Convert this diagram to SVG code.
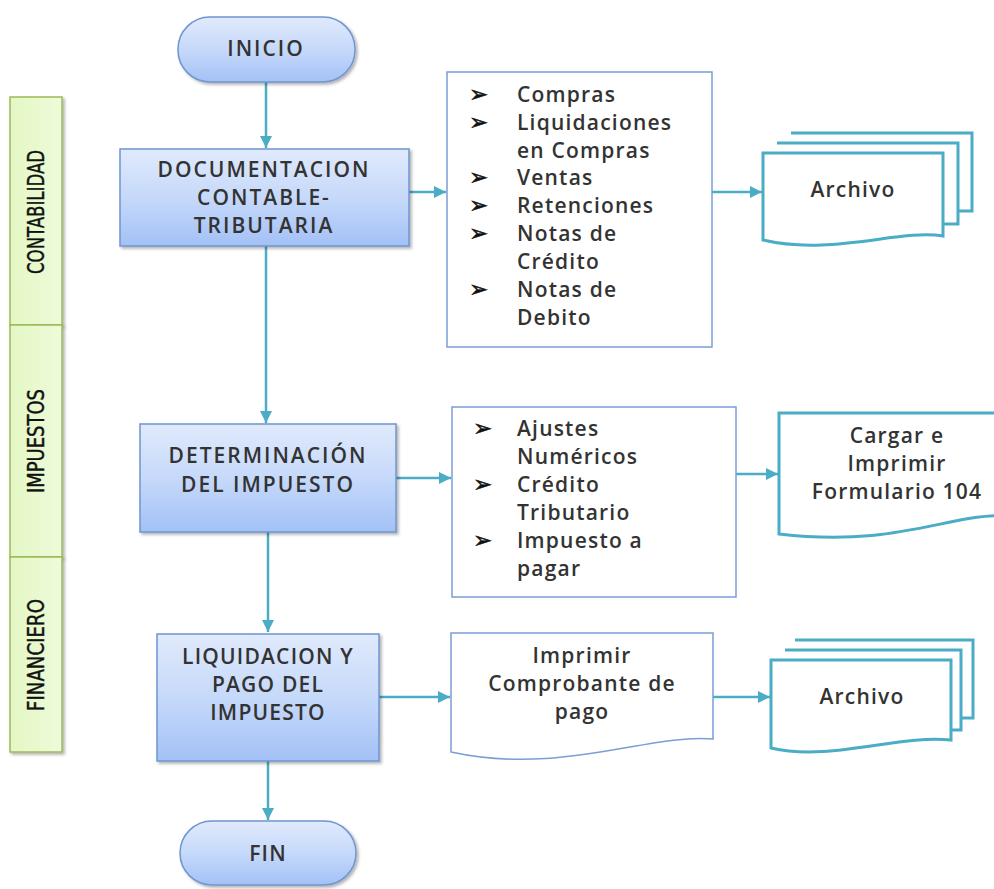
<svg xmlns="http://www.w3.org/2000/svg" width="994" height="889" viewBox="0 0 994 889">
  <defs>
    <linearGradient id="blueFill" x1="0" y1="0" x2="0" y2="1">
      <stop offset="0" stop-color="#e0eafc"/>
      <stop offset="0.5" stop-color="#c6d9fa"/>
      <stop offset="1" stop-color="#a3c1f6"/>
    </linearGradient>
    <linearGradient id="greenFill" x1="0" y1="0" x2="1" y2="0">
      <stop offset="0" stop-color="#e4f7c4"/>
      <stop offset="1" stop-color="#eefbd9"/>
    </linearGradient>
    <filter id="shadow" x="-10%" y="-10%" width="130%" height="130%">
      <feDropShadow dx="2" dy="2" stdDeviation="1.5" flood-color="#000" flood-opacity="0.3"/>
    </filter>
    <marker id="arrow" viewBox="0 0 10 10" refX="10" refY="5" markerWidth="5" markerHeight="5" orient="auto" markerUnits="strokeWidth">
      <path d="M0,0 L10,5 L0,10 Z" fill="#4bacc6"/>
    </marker>
  </defs>
  <style>
    .lane { fill: url(#greenFill); stroke: #9bbb59; stroke-width: 1.5; }
    .lane-label { font-family: "Liberation Sans Narrow", "DejaVu Sans Condensed", "Liberation Sans", sans-serif; font-size: 23px; fill: #111; stroke: #111; stroke-width: 0.4; text-anchor: middle; }
    .process { fill: url(#blueFill); stroke: #6f95cf; stroke-width: 1.5; }
    .list { fill: #ffffff; stroke: #7a9fd4; stroke-width: 1.5; }
    .doc-thin { fill: #ffffff; stroke: #7a9fd4; stroke-width: 1.5; }
    .doc-teal { fill: #ffffff; stroke: #4bacc6; stroke-width: 3; }
    .label { font-family: "Open Sans", "Liberation Sans", sans-serif; font-size: 21px; font-weight: 600; fill: #333; letter-spacing: 1.2px; }
    .caps { letter-spacing: 2px; }
    .center { text-anchor: middle; }
    .bullet { font-family: "DejaVu Sans", sans-serif; font-size: 23px; fill: #111; stroke: #111; stroke-width: 0.5; }
    .conn { fill: none; stroke: #4bacc6; stroke-width: 2.5; marker-end: url(#arrow); }
  </style>

  <!-- swimlane labels -->
  <g id="lane-contabilidad">
    <rect class="lane" x="10" y="97" width="52" height="228" filter="url(#shadow)"/>
    <text class="lane-label" transform="translate(44,212) rotate(-90)" textLength="124" lengthAdjust="spacingAndGlyphs">CONTABILIDAD</text>
  </g>
  <g id="lane-impuestos">
    <rect class="lane" x="10" y="325" width="52" height="232" filter="url(#shadow)"/>
    <text class="lane-label" transform="translate(44,441) rotate(-90)" textLength="104" lengthAdjust="spacingAndGlyphs">IMPUESTOS</text>
  </g>
  <g id="lane-financiero">
    <rect class="lane" x="10" y="557" width="52" height="195" filter="url(#shadow)"/>
    <text class="lane-label" transform="translate(44,655) rotate(-90)" textLength="112" lengthAdjust="spacingAndGlyphs">FINANCIERO</text>
  </g>

  <!-- connectors -->
  <g id="connectors">
    <path class="conn" d="M266,82 V148"/>
    <path class="conn" d="M409,192 H446"/>
    <path class="conn" d="M712,192 H762"/>
    <path class="conn" d="M266,246 V423"/>
    <path class="conn" d="M396,478 H451"/>
    <path class="conn" d="M736,474 H778"/>
    <path class="conn" d="M268,532 V632"/>
    <path class="conn" d="M379,697 H450"/>
    <path class="conn" d="M713,697 H770"/>
    <path class="conn" d="M268,761 V820"/>
  </g>

  <!-- start -->
  <g id="inicio">
    <rect class="process" x="178" y="17" width="177" height="65" rx="32" ry="32" filter="url(#shadow)"/>
    <text class="label caps center" x="266" y="56">INICIO</text>
  </g>

  <!-- accounting documents -->
  <g id="documentacion">
    <rect class="process" x="120" y="149" width="289" height="97" filter="url(#shadow)"/>
    <text class="label caps center" x="264" y="177">DOCUMENTACION</text>
    <text class="label caps center" x="264" y="205">CONTABLE-</text>
    <text class="label caps center" x="264" y="233">TRIBUTARIA</text>
  </g>

  <g id="lista-documentos">
    <rect class="list" x="447" y="72" width="265" height="275"/>
    <text class="bullet" x="469" y="102">➢</text>
    <text class="label" x="517" y="102">Compras</text>
    <text class="bullet" x="469" y="130">➢</text>
    <text class="label" x="517" y="130">Liquidaciones</text>
    <text class="label" x="517" y="158">en Compras</text>
    <text class="bullet" x="469" y="185">➢</text>
    <text class="label" x="517" y="185">Ventas</text>
    <text class="bullet" x="469" y="213">➢</text>
    <text class="label" x="517" y="213">Retenciones</text>
    <text class="bullet" x="469" y="241">➢</text>
    <text class="label" x="517" y="241">Notas de</text>
    <text class="label" x="517" y="269">Crédito</text>
    <text class="bullet" x="469" y="297">➢</text>
    <text class="label" x="517" y="297">Notas de</text>
    <text class="label" x="517" y="325">Debito</text>
  </g>

  <g id="archivo-1">
    <path class="doc-teal" d="M791,133 H972 V211 H958"/>
    <path class="doc-teal" d="M777,143 H958 V224 H943"/>
    <path class="doc-teal" d="M763,153 H943 V236 C900,229 830,256 763,240 Z"/>
    <text class="label center" x="853" y="197">Archivo</text>
  </g>

  <!-- tax determination -->
  <g id="determinacion">
    <rect class="process" x="140" y="424" width="256" height="108" filter="url(#shadow)"/>
    <text class="label caps center" x="268" y="463">DETERMINACIÓN</text>
    <text class="label caps center" x="268" y="492">DEL IMPUESTO</text>
  </g>

  <g id="lista-ajustes">
    <rect class="list" x="452" y="407" width="284" height="190"/>
    <text class="bullet" x="473" y="436">➢</text>
    <text class="label" x="517" y="436">Ajustes</text>
    <text class="label" x="517" y="464">Numéricos</text>
    <text class="bullet" x="473" y="492">➢</text>
    <text class="label" x="517" y="492">Crédito</text>
    <text class="label" x="517" y="520">Tributario</text>
    <text class="bullet" x="473" y="548">➢</text>
    <text class="label" x="517" y="548">Impuesto a</text>
    <text class="label" x="517" y="576">pagar</text>
  </g>

  <g id="formulario-104">
    <path class="doc-teal" d="M779,413 H1010 V516 C950,512 900,548 779,534 Z"/>
    <text class="label center" x="897" y="443">Cargar e</text>
    <text class="label center" x="897" y="471">Imprimir</text>
    <text class="label center" x="897" y="499">Formulario 104</text>
  </g>

  <!-- payment -->
  <g id="liquidacion">
    <rect class="process" x="157" y="634" width="222" height="127" filter="url(#shadow)"/>
    <text class="label center" x="268" y="664">LIQUIDACION Y</text>
    <text class="label center" x="268" y="692">PAGO DEL</text>
    <text class="label center" x="268" y="720">IMPUESTO</text>
  </g>

  <g id="comprobante">
    <path class="doc-thin" d="M451,633 H713 V739 C650,733 560,776 451,752 Z"/>
    <text class="label center" x="582" y="663">Imprimir</text>
    <text class="label center" x="582" y="691">Comprobante de</text>
    <text class="label center" x="582" y="719">pago</text>
  </g>

  <g id="archivo-2">
    <path class="doc-teal" d="M795,640 H973 V718 H961"/>
    <path class="doc-teal" d="M785,650 H961 V730 H951"/>
    <path class="doc-teal" d="M771,660 H951 V740 C900,734 830,762 771,748 Z"/>
    <text class="label center" x="862" y="704">Archivo</text>
  </g>

  <!-- end -->
  <g id="fin">
    <rect class="process" x="180" y="821" width="176" height="64" rx="32" ry="32" filter="url(#shadow)"/>
    <text class="label center" x="268" y="861">FIN</text>
  </g>
</svg>
